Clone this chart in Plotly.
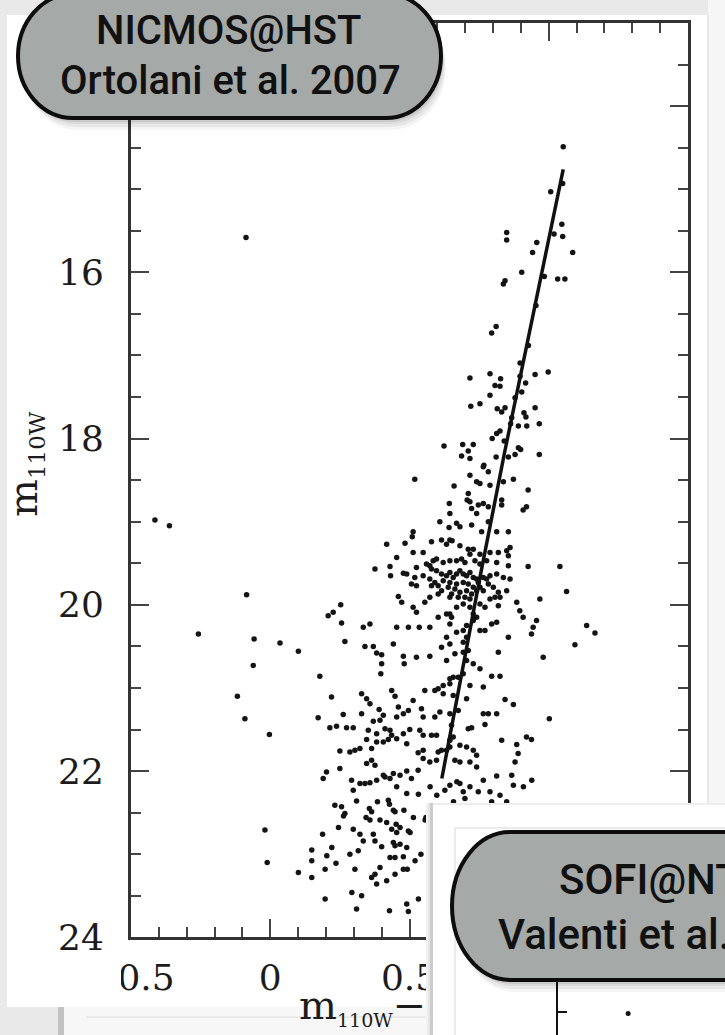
import plotly.graph_objects as go

W, H = 725, 1035

# ---------------- data ----------------
upper_color = [-0.087, 1.052, 1.050, 1.007, 1.047, 0.849, 0.849, 1.019, 1.050, 0.957,
               0.942, 1.086, 0.903, 0.984, 1.032, 1.058, 0.843, 0.837, 0.954, 0.811,
               0.795, 0.927, 0.897, 0.717, 0.789, 0.827, 0.897, 0.951, 0.998, 0.807,
               0.825, 0.917, 0.789, 0.903, 0.879,
               0.720, 0.753, 0.815, 0.831, 0.843, 0.951, 0.911, 0.918, 0.867, 0.966,
               0.891, 0.921, 0.863, 0.825, 0.813, 0.797, 0.840, 0.624, 0.691, 0.729,
               0.711, 0.891, 0.899, 0.687, 0.717, 0.811, 0.879, 0.966, 0.855, 0.767]
upper_mag = [15.58, 14.49, 14.93, 15.03, 15.42, 15.52, 15.61, 15.54, 15.57, 15.64,
             15.76, 15.76, 16.00, 16.05, 16.08, 16.08, 16.10, 16.14, 16.40, 16.65,
             16.73, 16.88, 17.09, 17.27, 17.22, 17.28, 17.25, 17.23, 17.20, 17.36,
             17.37, 17.33, 17.48, 17.44, 17.51,
             17.61, 17.58, 17.64, 17.68, 17.63, 17.63, 17.69, 17.74, 17.75, 17.82,
             17.85, 17.85, 17.82, 17.91, 17.94, 18.00, 18.03, 18.09, 18.07, 18.07,
             18.15, 18.11, 18.13, 18.21, 18.24, 18.22, 18.19, 18.19, 18.22, 18.32]

blue_color = [-0.414, -0.362, -0.085, -0.258, -0.058, 0.035, 0.101, -0.061, -0.118, -0.091,
              -0.003, -0.019, -0.011]
blue_mag = [18.98, 19.05, 19.88, 20.35, 20.41, 20.46, 20.56, 20.73, 21.10, 21.37,
            21.56, 22.71, 23.10]

mid_color = [0.519, 0.717, 0.765, 0.783, 0.741, 0.753, 0.789, 0.837, 0.873, 0.926,
             0.660, 0.711, 0.707, 0.643, 0.645, 0.717, 0.723, 0.747, 0.765, 0.783,
             0.741, 0.831, 0.831, 0.920, 0.908, 0.609, 0.642, 0.669, 0.681, 0.723,
             0.759, 0.783, 0.813, 0.855, 0.513, 0.510, 0.418, 0.484, 0.579, 0.615,
             0.633, 0.645, 0.653, 0.681, 0.711, 0.729, 0.753, 0.789, 0.819, 0.849,
             0.861, 0.855, 0.454, 0.513, 0.549, 0.561, 0.585, 0.597, 0.621, 0.645,
             0.669, 0.687, 0.699, 0.717, 0.735, 0.753, 0.777, 0.813, 0.855, 0.926,
             1.040, 0.376, 0.430, 0.432, 0.478, 0.525, 0.573, 0.579, 0.597, 0.615,
             0.633, 0.645, 0.657, 0.669, 0.681, 0.693, 0.705, 0.717, 0.729, 0.741,
             0.621, 0.645, 0.669, 0.693, 0.711, 0.729, 0.747, 0.765, 0.573, 0.591,
             0.603, 0.639, 0.663, 0.681, 0.705, 0.723, 0.741, 0.753, 0.777, 0.789,
             0.813, 0.837, 0.861, 0.490, 0.519, 0.507, 0.525, 0.549, 0.579, 0.615,
             0.651, 0.675, 0.699, 0.717, 0.765, 0.783, 0.801, 0.819, 0.849, 0.460,
             0.472, 0.513, 0.525, 0.555, 0.573, 0.603, 0.645, 0.645, 0.669, 0.693,
             0.717, 0.729, 0.753, 0.771, 0.789, 0.807, 0.825, 0.819, 0.885, 0.896,
             0.908, 0.944, 0.968, 1.064, 0.956, 0.938, 1.136, 1.166, 1.094, 0.980,
             0.855, 0.813, 0.795, 0.771, 0.753, 0.741, 0.729, 0.705, 0.693, 0.651,
             0.633, 0.645, 0.603, 0.573, 0.535, 0.496, 0.454, 0.358, 0.334, 0.256,
             0.208, 0.226, 0.253, 0.268, 0.340, 0.370, 0.382, 0.400, 0.442, 0.478,
             0.481, 0.525, 0.573, 0.615, 0.633, 0.645, 0.663, 0.693, 0.711, 0.705,
             0.729, 0.753, 0.819, 0.693, 0.669, 0.705, 0.178, 0.400, 0.397, 0.633,
             0.657, 0.645, 0.675, 0.693, 0.717, 0.795, 0.825, 0.765, 0.621, 0.603,
             0.591, 0.555, 0.645, 0.220, 0.328, 0.346, 0.358, 0.436, 0.448, 0.460,
             0.513, 0.543, 0.621, 0.657, 0.705, 0.765, 0.783, 0.813, 0.843, 0.873,
             1.002, 0.391, 0.406, 0.454, 0.478, 0.496, 0.549, 0.591, 0.609, 0.645,
             0.675, 0.172, 0.214, 0.238, 0.262, 0.274, 0.298, 0.328, 0.370, 0.394,
             0.352, 0.382, 0.412, 0.430, 0.454, 0.478, 0.501, 0.537, 0.549, 0.579,
             0.597, 0.651, 0.657, 0.711, 0.723, 0.771, 0.831, 0.885, 0.920, 0.938,
             0.250, 0.286, 0.304, 0.322, 0.346, 0.364, 0.382, 0.406, 0.424, 0.436,
             0.490, 0.531, 0.549, 0.603, 0.615, 0.645, 0.681, 0.705, 0.729, 0.741,
             0.890, 0.879, 0.250, 0.202, 0.190, 0.292, 0.346, 0.364, 0.376, 0.412,
             0.442, 0.466, 0.490, 0.507, 0.531, 0.549, 0.573, 0.597, 0.633, 0.645,
             0.663, 0.681, 0.717, 0.741, 0.765, 0.813, 0.867,
             0.298, 0.322, 0.340, 0.358, 0.382, 0.406, 0.430, 0.454]
mid_mag = [18.49, 18.44, 18.34, 18.40, 18.52, 18.54, 18.56, 18.52, 18.49, 18.62,
           18.57, 18.66, 18.74, 18.78, 18.90, 18.76, 18.84, 18.80, 18.78, 18.82,
           18.90, 18.74, 18.80, 18.82, 18.86, 19.00, 19.07, 19.02, 19.06, 19.04,
           19.12, 19.00, 19.12, 19.12, 19.12, 19.18, 19.27, 19.26, 19.24, 19.22,
           19.27, 19.22, 19.23, 19.29, 19.33, 19.33, 19.39, 19.37, 19.37, 19.35,
           19.31, 19.41, 19.43, 19.37, 19.37, 19.51, 19.47, 19.45, 19.49, 19.47,
           19.47, 19.45, 19.49, 19.39, 19.47, 19.51, 19.47, 19.49, 19.53, 19.54,
           19.54, 19.57, 19.54, 19.65, 19.62, 19.55, 19.53, 19.57, 19.59, 19.63,
           19.65, 19.61, 19.67, 19.63, 19.59, 19.63, 19.65, 19.61, 19.67, 19.69,
           19.71, 19.73, 19.75, 19.73, 19.75, 19.79, 19.73, 19.67, 19.69, 19.73,
           19.77, 19.79, 19.81, 19.85, 19.83, 19.87, 19.83, 19.79, 19.69, 19.65,
           19.63, 19.67, 19.69, 19.63, 19.67, 19.75, 19.77, 19.65, 19.77, 19.83,
           19.87, 19.91, 19.91, 19.93, 19.83, 19.75, 19.79, 19.85, 19.83, 19.90,
           19.97, 20.03, 20.09, 19.97, 19.91, 19.87, 19.91, 20.11, 20.03, 19.99,
           20.03, 20.11, 19.99, 20.03, 19.93, 19.91, 19.91, 20.01, 19.97, 20.07,
           20.15, 20.27, 19.93, 19.84, 20.19, 20.35, 20.25, 20.34, 20.48, 20.63,
           20.39, 20.21, 20.23, 20.31, 20.31, 20.15, 20.19, 20.25, 20.31, 20.15,
           20.11, 20.23, 20.15, 20.27, 20.27, 20.27, 20.27, 20.23, 20.27, 20.22,
           20.13, 20.09, 20.00, 20.44, 20.50, 20.50, 20.58, 20.60, 20.47, 20.62,
           20.71, 20.63, 20.62, 20.51, 20.39, 20.47, 20.59, 20.57, 20.55, 20.67,
           20.71, 20.77, 20.57, 20.45, 20.33, 20.39, 20.86, 20.71, 20.83, 20.67,
           20.87, 20.89, 20.87, 20.83, 20.97, 20.86, 20.86, 20.99, 20.97, 21.01,
           21.03, 21.03, 20.95, 21.11, 21.07, 21.13, 21.19, 21.03, 21.10, 21.23,
           21.15, 21.25, 21.07, 21.09, 21.13, 21.31, 21.31, 21.31, 21.14, 21.20,
           21.37, 21.26, 21.33, 21.35, 21.31, 21.27, 21.35, 21.35, 21.29, 21.31,
           21.27, 21.36, 21.48, 21.46, 21.32, 21.48, 21.48, 21.31, 21.40, 21.39,
           21.51, 21.55, 21.49, 21.51, 21.61, 21.55, 21.50, 21.51, 21.57, 21.57,
           21.57, 21.45, 21.59, 21.49, 21.48, 21.44, 21.63, 21.68, 21.59, 21.62,
           21.76, 21.77, 21.75, 21.73, 21.62, 21.73, 21.65, 21.65, 21.62, 21.57,
           21.67, 21.78, 21.75, 21.77, 21.75, 21.71, 21.69, 21.71, 21.75, 21.81,
           21.79, 21.89, 21.97, 22.01, 22.09, 22.11, 21.91, 21.87, 21.93, 22.07,
           22.03, 22.05, 22.00, 22.09, 21.99, 21.85, 21.89, 21.87, 21.75, 21.63,
           21.87, 21.89, 21.89, 21.95, 22.11, 22.06, 22.05,
           22.23, 22.15, 22.15, 22.14, 22.11, 22.05, 22.09, 22.19]

low_color = [0.232, 0.256, 0.268, 0.263, 0.310, 0.356, 0.364, 0.385, 0.424, 0.428,
             0.442, 0.448, 0.480, 0.490, 0.532, 0.559, 0.556, 0.514, 0.344, 0.358,
             0.394, 0.418, 0.436, 0.452, 0.454, 0.466, 0.496, 0.502, 0.188, 0.245,
             0.298, 0.322, 0.334, 0.370, 0.376, 0.400, 0.442, 0.448, 0.466, 0.490,
             0.221, 0.149, 0.203, 0.236, 0.286, 0.316, 0.430, 0.448, 0.478, 0.520,
             0.541, 0.149, 0.197, 0.101, 0.149, 0.304, 0.364, 0.376, 0.394, 0.382,
             0.418, 0.448, 0.478, 0.492, 0.571, 0.574, 0.197, 0.293, 0.328, 0.532,
             0.310, 0.428, 0.490, 0.496, 0.574,
             0.574, 0.598, 0.627, 0.645, 0.658, 0.670, 0.681, 0.693, 0.699, 0.717,
             0.747, 0.789, 0.795, 0.825, 0.849, 0.873, 0.909, 0.939]
low_mag = [22.41, 22.43, 22.51, 22.54, 22.36, 22.45, 22.49, 22.37, 22.35, 22.40,
           22.47, 22.49, 22.47, 22.27, 22.28, 22.56, 22.59, 22.56, 22.56, 22.59,
           22.59, 22.62, 22.70, 22.64, 22.74, 22.68, 22.72, 22.74, 22.76, 22.68,
           22.70, 22.76, 22.84, 22.76, 22.84, 22.91, 22.86, 22.90, 22.88, 22.92,
           22.92, 22.95, 23.02, 23.11, 23.00, 22.96, 23.04, 23.04, 23.03, 23.08,
           23.00, 23.08, 23.18, 23.22, 23.28, 23.18, 23.28, 23.24, 23.16, 23.36,
           23.32, 23.24, 23.18, 23.18, 23.20, 23.30, 23.54, 23.46, 23.50, 23.54,
           23.66, 23.68, 23.60, 23.69, 23.80,
           22.19, 22.29, 22.23, 22.17, 22.37, 22.13, 22.15, 22.25, 22.33, 22.19,
           22.25, 22.25, 22.37, 22.29, 22.37, 22.17, 22.19, 22.11]

fit_color = [1.052, 0.843, 0.753, 0.616]
fit_mag = [14.76, 18.14, 19.67, 22.09]

sofi_color = [0.42]
sofi_mag = [17.53]

for a, b in [(upper_color, upper_mag), (blue_color, blue_mag),
             (mid_color, mid_mag), (low_color, low_mag)]:
    assert len(a) == len(b), (len(a), len(b))

star_color = upper_color + blue_color + mid_color + low_color
star_mag = upper_mag + blue_mag + mid_mag + low_mag

x_title = "m<sub><span style='font-size:19px'>110W</span></sub>−m<sub><span style='font-size:19px'>160W</span></sub>"
y_title = "m<sub><span style='font-size:23px'>110W</span></sub>"
label_nicmos = ["NICMOS@HST", "Ortolani et al. 2007"]
label_sofi = ["SOFI@NTT", "Valenti et al. 2007"]

# ---------------- helpers (page pixels -> paper fractions) ----------------
def X(p):
    return p / W


def Y(p):
    return 1 - p / H


def f(v):
    return f"{v:.5f}"


def pill_path(x0, y0, x1, y1, rx, ry):
    k = 0.5523
    s = [
        f"M{f(X(x0+rx))},{f(Y(y0))}",
        f"L{f(X(x1-rx))},{f(Y(y0))}",
        f"C{f(X(x1-rx+k*rx))},{f(Y(y0))} {f(X(x1))},{f(Y(y0+ry-k*ry))} {f(X(x1))},{f(Y(y0+ry))}",
        f"L{f(X(x1))},{f(Y(y1-ry))}",
        f"C{f(X(x1))},{f(Y(y1-ry+k*ry))} {f(X(x1-rx+k*rx))},{f(Y(y1))} {f(X(x1-rx))},{f(Y(y1))}",
        f"L{f(X(x0+rx))},{f(Y(y1))}",
        f"C{f(X(x0+rx-k*rx))},{f(Y(y1))} {f(X(x0))},{f(Y(y1-ry+k*ry))} {f(X(x0))},{f(Y(y1-ry))}",
        f"L{f(X(x0))},{f(Y(y0+ry))}",
        f"C{f(X(x0))},{f(Y(y0+ry-k*ry))} {f(X(x0+rx-k*rx))},{f(Y(y0))} {f(X(x0+rx))},{f(Y(y0))}",
        "Z",
    ]
    return " ".join(s)


SERIF = "DejaVu Serif"
LABEL_FONT = "Roboto, sans-serif"
INK = "#1c1c1c"
PILL_FILL = "#a5a9a8"

fig = go.Figure()

fig.add_trace(go.Scatter(
    x=star_color, y=star_mag, mode="markers",
    marker=dict(size=5.5, color="#141414", line=dict(width=0)),
    xaxis="x", yaxis="y", hoverinfo="skip"))
fig.add_trace(go.Scatter(
    x=fit_color, y=fit_mag, mode="lines",
    line=dict(color="#111111", width=3.5),
    xaxis="x", yaxis="y", hoverinfo="skip"))
# overlay axis only used to carry the x-axis title text (so the SOFI panel can cover it)
fig.add_trace(go.Scatter(x=[None], y=[None], xaxis="x4", yaxis="y", hoverinfo="skip"))
# SOFI panel background subplot
fig.add_trace(go.Scatter(x=[None], y=[None], xaxis="x2", yaxis="y2", hoverinfo="skip"))
# SOFI panel: visible fragment of its axis with one star
fig.add_trace(go.Scatter(
    x=sofi_color, y=sofi_mag, mode="markers",
    marker=dict(size=5, color="#111111"),
    xaxis="x3", yaxis="y3", hoverinfo="skip"))

axis_common = dict(showgrid=False, zeroline=False, automargin=False, fixedrange=True)

shapes = []
# page panels (below everything)
shapes.append(dict(type="rect", xref="paper", yref="paper", layer="below",
                   x0=X(7), x1=X(708), y0=Y(1007), y1=Y(15),
                   fillcolor="white", line=dict(width=0)))
shapes.append(dict(type="rect", xref="paper", yref="paper", layer="below",
                   x0=X(708), x1=X(725), y0=Y(805), y1=Y(0),
                   fillcolor="#f6f6f6", line=dict(width=0)))
shapes.append(dict(type="line", xref="paper", yref="paper", layer="below",
                   x0=X(708), x1=X(708), y0=Y(805), y1=Y(15),
                   line=dict(color="#e2e2e2", width=1.5)))
shapes.append(dict(type="rect", xref="paper", yref="paper", layer="below",
                   x0=X(64), x1=X(430), y0=Y(1035), y1=Y(1007),
                   fillcolor="#f7f7f7", line=dict(width=0)))
shapes.append(dict(type="rect", xref="paper", yref="paper", layer="below",
                   x0=X(58), x1=X(64), y0=Y(1035), y1=Y(1007),
                   fillcolor="#c2c2c2", line=dict(width=0)))
shapes.append(dict(type="line", xref="paper", yref="paper", layer="below",
                   x0=X(86), x1=X(430), y0=Y(1017), y1=Y(1017),
                   line=dict(color="#dedede", width=1)))

# SOFI panel decorations (drawn in the x2y2 subplot, above the main chart)
for xa, xb, a in [(426, 428, 0.05), (428, 430, 0.10), (430, 433, 0.20)]:
    shapes.append(dict(type="rect", xref="x2", yref="y2", layer="below",
                       x0=xa, x1=xb, y0=803, y1=1035,
                       fillcolor=f"rgba(0,0,0,{a})", line=dict(width=0)))
shapes.append(dict(type="rect", xref="x2", yref="y2", layer="below",
                   x0=433, x1=725, y0=803, y1=805,
                   fillcolor="rgba(0,0,0,0.07)", line=dict(width=0)))
shapes.append(dict(type="line", xref="x2", yref="y2", layer="below",
                   x0=455, x1=455, y0=828, y1=1035, line=dict(color="#e4e4e4", width=1.5)))
shapes.append(dict(type="line", xref="x2", yref="y2", layer="below",
                   x0=455, x1=725, y0=828, y1=828, line=dict(color="#e4e4e4", width=1.5)))

# mask that crops the left part of the "-0.5" label as in the scan
shapes.append(dict(type="rect", xref="paper", yref="paper", layer="above",
                   x0=X(40), x1=X(121), y0=Y(996), y1=Y(954),
                   fillcolor="white", line=dict(width=0)))

# label pills with soft shadows
for geom in [(18, -6, 441, 118, 55, 62), (452, 832, 880, 980, 58, 74)]:
    x0, y0, x1, y1, rx, ry = geom
    for dx, dy, a in [(1, 2, 0.07), (2, 4, 0.07), (3, 6, 0.06), (4, 9, 0.05), (5, 12, 0.04)]:
        shapes.append(dict(type="path", xref="paper", yref="paper", layer="above",
                           path=pill_path(x0 + dx, y0 + dy, x1 + dx, y1 + dy, rx, ry),
                           fillcolor=f"rgba(0,0,0,{a})", line=dict(width=0)))
    shapes.append(dict(type="path", xref="paper", yref="paper", layer="above",
                       path=pill_path(x0, y0, x1, y1, rx, ry),
                       fillcolor=PILL_FILL, line=dict(color="#0d0d0d", width=4)))

label_font_small = dict(family=LABEL_FONT, size=40, color="#111111", weight=500)
label_font_big = dict(family=LABEL_FONT, size=42, color="#111111", weight=500)
annotations = [
    dict(text=label_nicmos[0], x=X(228), y=Y(30), xref="paper", yref="paper",
         xanchor="center", yanchor="middle", showarrow=False, font=label_font_small),
    dict(text=label_nicmos[1], x=X(230), y=Y(81), xref="paper", yref="paper",
         xanchor="center", yanchor="middle", showarrow=False, font=label_font_small),
    dict(text=label_sofi[0], x=X(557), y=Y(879), xref="paper", yref="paper",
         xanchor="left", yanchor="middle", showarrow=False, font=label_font_big),
    dict(text=label_sofi[1], x=X(496), y=Y(934), xref="paper", yref="paper",
         xanchor="left", yanchor="middle", showarrow=False, font=label_font_big),
    dict(text=y_title, x=X(25), y=Y(464), xref="paper", yref="paper",
         xanchor="center", yanchor="middle", showarrow=False, textangle=-90,
         font=dict(family=SERIF, size=40, color=INK)),
]

fig.update_layout(
    width=W, height=H,
    margin=dict(l=0, r=0, t=0, b=0, pad=0),
    paper_bgcolor="#e9e9e9",
    plot_bgcolor="white",
    showlegend=False,
    xaxis=dict(domain=[X(131), X(688)], range=[-0.5, 1.5], anchor="y",
               tickmode="linear", tick0=0, dtick=0.5,
               ticks="inside", ticklen=18, tickwidth=2, tickcolor="#444444",
               minor=dict(dtick=0.1, tick0=0, ticks="inside", ticklen=10,
                          tickwidth=2, tickcolor="#444444"),
               showline=True, linewidth=3, linecolor="#333333", mirror="ticks",
               tickfont=dict(family=SERIF, size=36, color=INK),
               ticklabelstandoff=6, **axis_common),
    yaxis=dict(domain=[Y(937.3), Y(23)], range=[24, 13], anchor="x",
               tickmode="linear", tick0=0, dtick=2,
               ticks="inside", ticklen=18, tickwidth=2, tickcolor="#444444",
               minor=dict(dtick=0.5, tick0=0, ticks="inside", ticklen=10,
                          tickwidth=2, tickcolor="#444444"),
               showline=True, linewidth=3, linecolor="#333333", mirror="ticks",
               tickfont=dict(family=SERIF, size=36, color=INK),
               ticklabelstandoff=17, **axis_common),
    xaxis4=dict(overlaying="x", anchor="free", position=Y(978), side="bottom",
                range=[-0.5, 1.5], tickmode="array", tickvals=[0.5], ticktext=[x_title],
                ticks="", showline=False,
                tickfont=dict(family=SERIF, size=40, color=INK), **axis_common),
    xaxis2=dict(domain=[X(426), 1], range=[426, 725], anchor="y2", visible=False,
                **axis_common),
    yaxis2=dict(domain=[0, Y(803)], range=[1035, 803], anchor="x2", visible=False,
                **axis_common),
    xaxis3=dict(domain=[X(558), 1], range=[0, 1], anchor="y3", visible=False,
                **axis_common),
    yaxis3=dict(domain=[0, Y(943)], range=[18, 16], anchor="x3",
                showline=True, linewidth=2, linecolor="#111111",
                ticks="inside", ticklen=9, tickwidth=2, tickcolor="#111111",
                tickmode="array", tickvals=[17.5], showticklabels=False,
                **axis_common),
    shapes=shapes,
    annotations=annotations,
)

fig.write_html("out.html")
